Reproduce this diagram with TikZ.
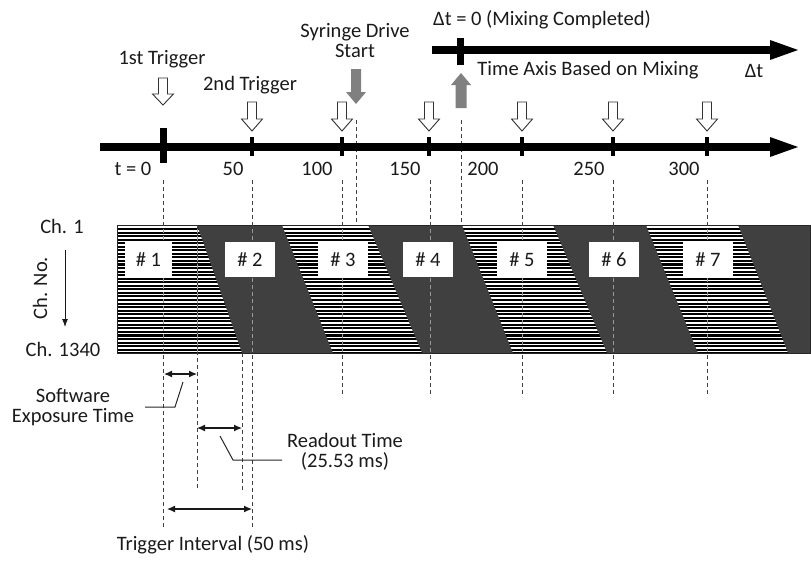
\documentclass[tikz,border=0pt]{standalone}
\usepackage{fontspec}
\setmainfont{Carlito}
\usetikzlibrary{arrows.meta}
\definecolor{bandc}{HTML}{404040}
\definecolor{arrowgray}{HTML}{808080}
\definecolor{txt}{HTML}{1A1A1A}
\newcommand\hollowDown[4]{% x, top, head start, tip
  \draw[hollowarrow] ({#1-4.5},#2) -- ({#1+4.5},#2) -- ({#1+4.5},#3) -- ({#1+10.5},#3) -- (#1,#4) -- ({#1-10.5},#3) -- ({#1-4.5},#3) -- cycle;}
\begin{document}
\begin{tikzpicture}[x=1pt,y=-1pt,
  lbl/.style={font=\fontsize{20.5}{20}\selectfont, text=txt, inner sep=0pt, anchor=base},
  numbox/.style={font=\fontsize{20.5}{20}\selectfont, text=txt, fill=white, inner sep=0pt, minimum width=50pt, minimum height=35pt, anchor=center},
  axisline/.style={line width=8pt, black},
  hollowarrow/.style={draw=black!80, fill=white, line width=0.9pt, line join=miter},
  grayarrow/.style={fill=arrowgray},
  guide/.style={dash pattern=on 4pt off 3pt, line width=0.9pt, black!75},
  guidein/.style={dash pattern=on 4pt off 3pt, line width=0.9pt, black!40},
  dimarrow/.style={{Latex[length=8pt,width=7pt]}-{Latex[length=8pt,width=7pt]}, line width=1.2pt, black!90},
  leader/.style={line width=1pt, black!85}
]
\useasboundingbox (0,0) rectangle (811,563);

% ---------- band ----------
\fill[bandc] (117,225) rectangle (810,353);
\begin{scope}
  \clip (117,225) -- (197,225) -- (242,353) -- (117,353) -- cycle
        (282,225) -- (368,225) -- (422,353) -- (333,353) -- cycle
        (462,225) -- (553,225) -- (607,353) -- (513,353) -- cycle
        (646,225) -- (738,225) -- (788,353) -- (698,353) -- cycle;
  \fill[black] (110,220) rectangle (815,360);
  \foreach \k in {0,...,35}
    \draw[white, line width=1.5pt] (110,{227.2+3.55*\k}) -- (815,{227.2+3.55*\k});
\end{scope}
\draw[black!85, line width=0.8pt] (117,225) rectangle (810,353);

% ---------- dashed guide lines ----------
\foreach \x in {163,252}{\draw[guide] (\x,180) -- (\x,527);}
\foreach \x in {342,430,522,613,707}{\draw[guide] (\x,180) -- (\x,397);}
\draw[guide] (356,120) -- (356,225);
\draw[guide] (461,120) -- (461,225);
\draw[guide] (197,225) -- (197,490);
\draw[guide] (242,353) -- (242,490);
\begin{scope}
  \clip (117,226) rectangle (810,352);
  \foreach \x in {163,252,342,430,522,613,707,197}{\draw[guidein] (\x,180) -- (\x,397);}
\end{scope}

% ---------- frame labels ----------
\node[numbox, minimum width=47pt] (f1) at (148.5,259.5) {\# 1};
\node[numbox] (f2) at (250,259.5) {\# 2};
\node[numbox] (f3) at (343,259.5) {\# 3};
\node[numbox] (f4) at (428,259.5) {\# 4};
\node[numbox] (f5) at (522,259.5) {\# 5};
\node[numbox] (f6) at (614,259.5) {\# 6};
\node[numbox] (f7) at (708,259.5) {\# 7};

% ---------- main time axis ----------
\draw[axisline] (100,147) -- (772,147);
\fill[black] (770,137) -- (798,147) -- (770,157) -- cycle;
\fill[black] (159.5,128) rectangle (166.5,163);
\foreach \x in {252,342,429,522,613,707}{\fill[black] ({\x-2},137) rectangle ({\x+2},156);}

% ---------- mixing time axis ----------
\draw[axisline] (432,50) -- (772,50);
\fill[black] (770,40) -- (798,50) -- (770,60) -- cycle;
\fill[black] (457,38) rectangle (464,65);

% ---------- trigger arrows ----------
\hollowDown{163}{78}{94}{105}
\foreach \x in {252,342,429,522,613,707}{\hollowDown{\x}{102}{119}{131}}

% ---------- gray arrows ----------
\fill[grayarrow] (351,69) -- (361,69) -- (361,92) -- (366,92) -- (356,104) -- (346,92) -- (351,92) -- cycle;
\fill[grayarrow] (455.5,108) -- (466.5,108) -- (466.5,85) -- (471,85) -- (461,73) -- (451,85) -- (455.5,85) -- cycle;

% ---------- texts ----------
\node[lbl] (trig1) at (162,64) {1st Trigger};
\node[lbl] (trig2) at (250,90) {2nd Trigger};
\node[lbl] (syr1) at (355,37) {Syringe Drive};
\node[lbl] (syr2) at (355,57) {Start};
\node[lbl] (mix) at (542,25) {Δt = 0 (Mixing Completed)};
\node[lbl] (taxis) at (588,75) {Time Axis Based on Mixing};
\node[lbl] (dt) at (754,77) {Δt};

\node[lbl] (t0) at (133,175) {t = 0};
\node[lbl] (t50) at (233,175) {50};
\node[lbl] (t100) at (317,175) {100};
\node[lbl] (t150) at (405,175) {150};
\node[lbl] (t200) at (483,175) {200};
\node[lbl] (t250) at (589,175) {250};
\node[lbl] (t300) at (684,175) {300};

\node[lbl] (ch1) at (62,233) {Ch. 1};
\node[lbl] (ch1340) at (63,356) {Ch. 1340};
\node[lbl, rotate=90] (chno) at (47,288) {Ch. No.};
\coordinate (chtop) at (65,250);
\coordinate (chbot) at (65,327);
\draw[-{Latex[length=8pt,width=6pt]}, line width=1pt, black!90] (chtop) -- (chbot);

% ---------- dimension arrows ----------
\coordinate (sw1) at (164,374); \coordinate (sw2) at (197,374);
\coordinate (ro1) at (197,428); \coordinate (ro2) at (242,428);
\coordinate (ti1) at (167,509); \coordinate (ti2) at (252,509);
\draw[dimarrow] (sw1) -- (sw2);
\draw[dimarrow] (ro1) -- (ro2);
\draw[dimarrow] (ti1) -- (ti2);

\node[lbl] (sw) at (73,402) {Software};
\node[lbl] (swb) at (73,422) {Exposure Time};
\draw[leader] (183,382) -- (175,407) -- (145,407);

\node[lbl] (ro) at (345,447) {Readout Time};
\node[lbl] (rob) at (345,467) {(25.53 ms)};
\draw[leader] (220,436) -- (233,460) -- (282,460);

\node[lbl] (ti) at (213,550) {Trigger Interval (50 ms)};
\end{tikzpicture}
\end{document}
